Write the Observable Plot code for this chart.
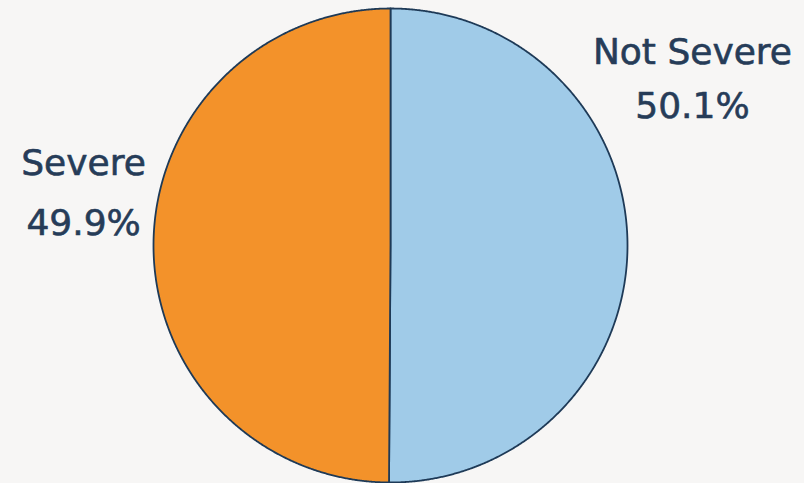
<!DOCTYPE html>
<html>
<head>
<meta charset="utf-8">
<script src="https://cdn.jsdelivr.net/npm/d3@7"></script>
<script src="https://cdn.jsdelivr.net/npm/@observablehq/plot@0.6"></script>
<style>
  html, body { margin: 0; padding: 0; background: #f7f6f5; }
  #chart { width: 804px; height: 483px; overflow: hidden; }
</style>
</head>
<body>
<div id="chart"></div>
<script>
// ---- data ----
const categories = ["Not Severe", "Severe"];
const shares = [50.1, 49.9];           // percent of total
const sliceColors = ["#a0cbe8", "#f3922a"];

// ---- label layout (in pie-radius units, centre = 0,0) ----
const labelLayout = {
  "Not Severe": {x: 1.274, nameY: 0.815, pctY: 0.585},
  "Severe":     {x: -1.295, nameY: 0.345, pctY: 0.095}
};

const rows = categories.map((c, i) => ({category: c, value: shares[i]}));
const arcs = d3.pie().sort(null).value(d => d.value)(rows);

// polygon outline for each slice: centre -> arc -> centre
const pts = [];
for (const a of arcs) {
  const c = a.data.category;
  pts.push({category: c, x: 0, y: 0});
  const n = Math.max(2, Math.ceil((a.endAngle - a.startAngle) / (Math.PI / 720)));
  for (let k = 0; k <= n; k++) {
    const t = a.startAngle + (a.endAngle - a.startAngle) * k / n;
    pts.push({category: c, x: Math.sin(t), y: Math.cos(t)});
  }
  pts.push({category: c, x: 0, y: 0});
}

const labels = rows.map(d => ({
  category: d.category,
  pct: d3.format(".1f")(d.value) + "%",
  x: labelLayout[d.category].x,
  nameY: labelLayout[d.category].nameY,
  pctY: labelLayout[d.category].pctY
}));

const textColor = "#263c58";
const font = "DejaVu Sans";

const chart = Plot.plot({
  width: 804,
  height: 483,
  marginLeft: 153,
  marginRight: 177,
  marginTop: 8,
  marginBottom: 1,
  x: {domain: [-1, 1], axis: null},
  y: {domain: [-1, 1], axis: null},
  color: {domain: categories, range: sliceColors},
  style: {background: "#f7f6f5", overflow: "visible"},
  marks: [
    Plot.line(pts, {
      x: "x", y: "y", z: "category", fill: "category",
      stroke: "#1e3a57", strokeWidth: 1.8, strokeLinejoin: "round",
      curve: "linear"
    }),
    Plot.text(labels, {
      x: "x", y: "nameY", text: "category",
      fill: textColor, stroke: textColor, strokeWidth: 0.6,
      fontSize: 36, fontFamily: font,
      textAnchor: "middle", lineAnchor: "middle"
    }),
    Plot.text(labels, {
      x: "x", y: "pctY", text: "pct",
      fill: textColor, stroke: textColor, strokeWidth: 0.6,
      fontSize: 36, fontFamily: font,
      textAnchor: "middle", lineAnchor: "middle"
    })
  ]
});
document.getElementById("chart").appendChild(chart);
</script>
</body>
</html>
